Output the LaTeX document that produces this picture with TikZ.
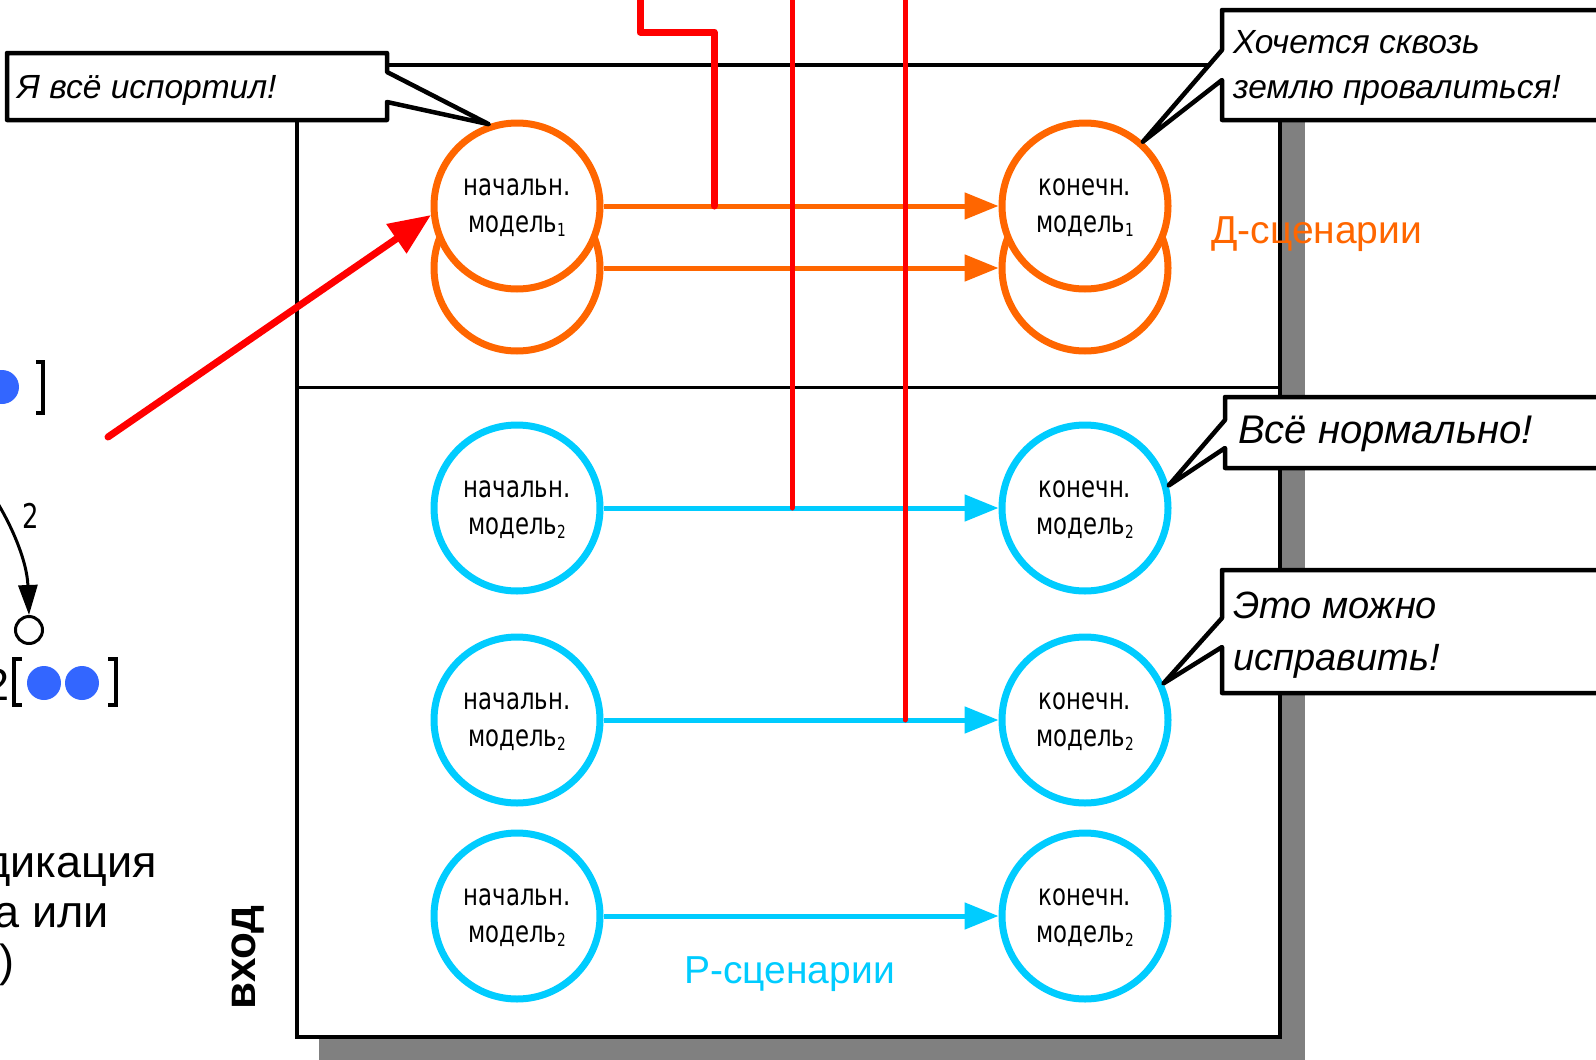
\documentclass[tikz,border=0pt]{standalone}
\usepackage{fontspec}
\setmainfont{Liberation Sans}
\newfontfamily\gostfont[FakeStretch=0.76]{DejaVu Sans}
\usetikzlibrary{arrows.meta}

\definecolor{dorange}{HTML}{FF6600}
\definecolor{rcyan}{HTML}{00CCFF}
\definecolor{dotblue}{HTML}{3366FF}
\definecolor{shadowgray}{HTML}{808080}

\newcommand\idx[1]{\raisebox{-4pt}{\fontsize{18}{18}\selectfont #1}}

\tikzset{
  model/.style={circle, draw, fill=white, line width=7pt, minimum size=166pt,
    inner sep=0pt, align=center, text depth=-3pt, font=\gostfont\fontsize{30}{37}\selectfont},
  dmodel/.style={model, draw=dorange},
  rmodel/.style={model, draw=rcyan},
  flow/.style={line width=5pt, -{Triangle[length=34pt,width=26pt]}},
  redwire/.style={draw=red, line width=5pt, line cap=round, line join=round},
  callout/.style={draw=black, fill=white, line width=4.5pt, line join=round},
  speech/.style={font=\fontsize{33.5}{40}\selectfont\itshape, inner sep=0pt, anchor=base west},
  scen/.style={font=\fontsize{39}{44}\selectfont, inner sep=0pt, anchor=base west},
  sidetext/.style={font=\fontsize{45}{50}\selectfont, inner sep=0pt, anchor=base east},
  bracket/.style={line width=4pt},
  bluedot/.style={circle, fill=dotblue, minimum size=34pt, inner sep=0pt},
}

\begin{document}
\begin{tikzpicture}[x=1pt,y=-1pt]
\useasboundingbox (0,0) rectangle (1596,1060);
\clip (0,0) rectangle (1596,1060);

% frame with drop shadow and the divider between the two scenario groups
\fill[shadowgray] (319,87) rectangle (1305,1070);
\draw[line width=4.5pt, fill=white] (297,65) rectangle (1280,1037);
\draw[line width=3pt] (297,387) -- (1280,387);

% D-scenarios (two stacked model pairs)
\node[dmodel] (s1b) at (517,268) {};
\node[dmodel] (e1b) at (1085,268) {};
\node[dmodel] (s1) at (517,206) {начальн.\\модель\idx{1}};
\node[dmodel] (e1) at (1085,206) {конечн.\\модель\idx{1}};
\draw[flow, draw=dorange, fill=dorange] (s1.east) -- (e1.west);
\draw[flow, draw=dorange, fill=dorange] (s1b.east) -- (e1b.west);

% R-scenarios
\node[rmodel] (s2) at (517,508) {начальн.\\модель\idx{2}};
\node[rmodel] (e2) at (1085,508) {конечн.\\модель\idx{2}};
\node[rmodel] (s3) at (517,720) {начальн.\\модель\idx{2}};
\node[rmodel] (e3) at (1085,720) {конечн.\\модель\idx{2}};
\node[rmodel] (s4) at (517,916) {начальн.\\модель\idx{2}};
\node[rmodel] (e4) at (1085,916) {конечн.\\модель\idx{2}};
\draw[flow, draw=rcyan, fill=rcyan] (s2.east) -- (e2.west);
\draw[flow, draw=rcyan, fill=rcyan] (s3.east) -- (e3.west);
\draw[flow, draw=rcyan, fill=rcyan] (s4.east) -- (e4.west);

\node[scen, text=dorange] (dlab) at (1211,243) {Д-сценарии};
\node[scen, text=rcyan] (rlab) at (684,983) {Р-сценарии};

% red wires
\coordinate (rin) at (108,437);
\coordinate (r2top) at (640,-10);
\coordinate (r2end) at (714,206);
\coordinate (r3top) at (792,-10);
\coordinate (r4top) at (905,-10);
\draw[redwire, line width=7pt, fill=red, -{Triangle[length=42pt,width=34pt]}] (rin) -- (s1.186);
\draw[redwire, line width=7pt] (r2top) -- (640,32) -- (714,32) -- (r2end);
\draw[redwire] (r3top) -- (r3top |- s2.center);
\draw[redwire] (r4top) -- (r4top |- s3.center);

% speech bubbles
\draw[callout] (7,53) -- (387,53) -- (387,72) -- (s1.109) -- (387,102) -- (387,120) -- (7,120) -- cycle;
\node[speech] (tA) at (17,98) {Я всё испортил!};

\draw[callout] (1222,10) -- (1640,10) -- (1640,120) -- (1222,120) -- (1222,80) -- (e1.48) -- (1222,50) -- cycle;
\node[speech] (tB1) at (1233,53) {Хочется сквозь};
\node[speech] (tB2) at (1233,98) {землю провалиться!};

\draw[callout] (1225,397) -- (1640,397) -- (1640,468) -- (1225,468) -- (1225,448) -- (e2.15) -- (1225,420) -- cycle;
\node[speech, font=\fontsize{40}{44}\selectfont\itshape] (tC) at (1238,443) {Всё нормально!};

\draw[callout] (1222,570) -- (1640,570) -- (1640,693) -- (1222,693) -- (1222,647) -- (e3.25) -- (1222,618) -- cycle;
\node[speech, font=\fontsize{38}{44}\selectfont\itshape] (tD1) at (1233,618) {Это можно};
\node[speech, font=\fontsize{38}{44}\selectfont\itshape] (tD2) at (1233,670) {исправить!};

% input label
\node[font=\fontsize{44}{44}\selectfont\bfseries, inner sep=0pt, anchor=base west, rotate=90] (vhod) at (255,1010) {вход};

% left-hand fragments
\node[bluedot] (d0) at (2,387) {};
\draw[bracket] (36,362) -- (43,362) -- (43,413) -- (36,413);

\coordinate (cA) at (-12,488);
\node[circle, draw, line width=3pt, minimum size=27pt, inner sep=0pt] (hc) at (29,630) {};
\draw[line width=3pt, -{Triangle[length=30pt,width=19pt]}] (cA) .. controls (10,520) and (27,560) .. (hc.north);
\node[font=\gostfont\fontsize{34}{34}\selectfont, inner sep=0pt] (two) at (31,516) {2};

\node[sidetext] (v2) at (10,700) {2};
\draw[bracket] (22,659) -- (14,659) -- (14,705) -- (22,705);
\node[bluedot] (d1) at (44,683) {};
\node[bluedot] (d2) at (82,683) {};
\draw[bracket] (108,659) -- (116,659) -- (116,705) -- (108,705);

\node[sidetext] (l1) at (157,877) {дикация};
\node[sidetext] (l2) at (109,927) {а или};
\node[sidetext] (l3) at (15,976) {е)};
\end{tikzpicture}
\end{document}
